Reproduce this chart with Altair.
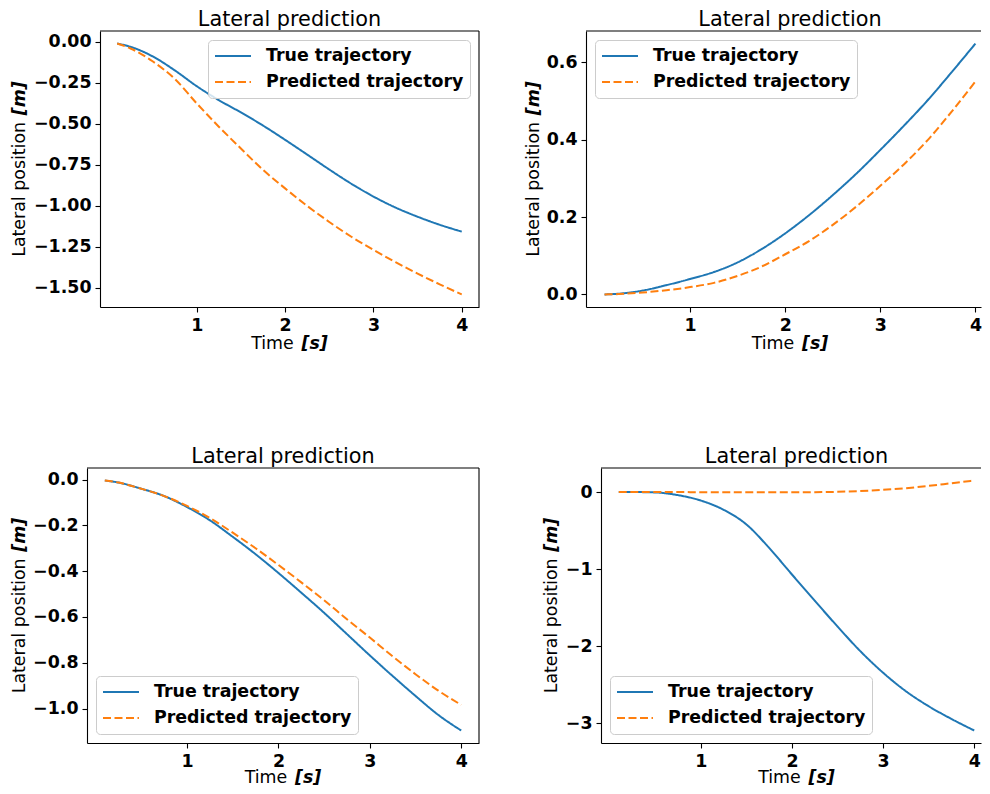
import altair as alt
import pandas as pd

# ---------------- data ----------------
time_s = [0.1, 0.25, 0.5, 0.75, 1.0, 1.25, 1.5, 1.75, 2.0, 2.25, 2.5, 2.75, 3.0, 3.25, 3.5, 3.75, 4.0]

p1_true = [-0.01, -0.03, -0.088, -0.173, -0.27, -0.355, -0.43, -0.51, -0.597, -0.687, -0.778, -0.865, -0.943, -1.01, -1.066, -1.115, -1.157]
p1_pred = [-0.01, -0.04, -0.118, -0.225, -0.375, -0.517, -0.65, -0.78, -0.893, -1.0, -1.098, -1.188, -1.268, -1.343, -1.413, -1.478, -1.54]

p2_true = [0.0, 0.002, 0.01, 0.024, 0.04, 0.058, 0.083, 0.117, 0.158, 0.205, 0.257, 0.313, 0.374, 0.437, 0.503, 0.575, 0.649]
p2_pred = [0.0, 0.001, 0.005, 0.011, 0.019, 0.03, 0.048, 0.072, 0.104, 0.138, 0.18, 0.228, 0.281, 0.337, 0.40, 0.473, 0.551]

p3_true = [-0.004, -0.013, -0.04, -0.072, -0.12, -0.178, -0.25, -0.326, -0.408, -0.494, -0.582, -0.675, -0.768, -0.858, -0.945, -1.028, -1.096]
p3_pred = [-0.004, -0.013, -0.04, -0.072, -0.115, -0.168, -0.232, -0.3, -0.373, -0.449, -0.527, -0.61, -0.69, -0.772, -0.85, -0.922, -0.984]

p4_true = [0.0, 0.0, -0.005, -0.04, -0.11, -0.23, -0.42, -0.725, -1.07, -1.41, -1.745, -2.065, -2.345, -2.585, -2.78, -2.945, -3.095]
p4_pred = [0.0, 0.0, 0.0, 0.0, -0.002, -0.003, -0.004, -0.004, -0.004, -0.002, 0.003, 0.013, 0.03, 0.05, 0.08, 0.115, 0.15]

series_names = ["True trajectory", "Predicted trajectory"]
series_colors = ["#1f77b4", "#ff7f0e"]

x_ticks = [1, 2, 3, 4]
p1_yticks = [0.0, -0.25, -0.5, -0.75, -1.0, -1.25, -1.5]
p2_yticks = [0.0, 0.2, 0.4, 0.6]
p3_yticks = [0.0, -0.2, -0.4, -0.6, -0.8, -1.0]
p4_yticks = [0, -1, -2, -3]

panel_title = "Lateral prediction"
x_label = ("Time", "[s]")
y_label = ("Lateral position", "[m]")

# ---------------- styling ----------------
FONT = "DejaVu Sans"
FS = 17.4
TITLE_FS = 20.8
LW = 1.1

one = pd.DataFrame({"k": [0]})


def text_piece(txt, x, y, align, angle=0, emph=False, size=FS):
    return alt.Chart(one).mark_text(
        text=txt, font=FONT, fontSize=size,
        fontWeight="bold" if emph else "normal",
        fontStyle="italic" if emph else "normal",
        align=align, baseline="alphabetic", angle=angle, color="black",
    ).encode(x=alt.value(x), y=alt.value(y))


def spacer(width):
    return alt.Chart(one).mark_point(opacity=0).encode(
        x=alt.value(0), y=alt.value(0)).properties(width=width, height=1)


def panel(true_v, pred_v, yticks, yfmt, w, full_w, h, legend_orient, ytitle_dx, xtitle_dy):
    n = len(time_s)
    df = pd.DataFrame({
        "t": time_s + time_s,
        "v": true_v + pred_v,
        "series": [series_names[0]] * n + [series_names[1]] * n,
    })
    # matplotlib-like 5% margins
    tmin, tmax = min(time_s), max(time_s)
    xm = 0.05 * (tmax - tmin)
    x0, x1 = tmin - xm, tmax + xm
    x1_vis = x0 + (x1 - x0) * w / full_w
    vals = true_v + pred_v
    lo, hi = min(vals), max(vals)
    ym = 0.05 * (hi - lo)

    leg = alt.Legend(
        title=None, orient=legend_orient, offset=9, padding=6,
        symbolType="stroke", symbolSize=1296, symbolStrokeWidth=2,
        clipHeight=20, rowPadding=6, labelOffset=14, labelLimit=400,
        labelFont=FONT, labelFontSize=FS, labelFontWeight="bold", labelColor="black",
        fillColor="rgba(255,255,255,0.8)", strokeColor="#cccccc", cornerRadius=4,
    )
    lines = alt.Chart(df).mark_line(strokeWidth=2, interpolate="monotone").encode(
        x=alt.X("t:Q", scale=alt.Scale(domain=[x0, x1_vis], nice=False, zero=False),
                axis=alt.Axis(values=x_ticks, format="d", title=None)),
        y=alt.Y("v:Q", scale=alt.Scale(domain=[lo - ym, hi + ym], nice=False, zero=False),
                axis=alt.Axis(values=yticks, title=None,
                              labelExpr="replace(format(datum.value, '%s'), '-', '\u2212')" % yfmt)),
        color=alt.Color("series:N", scale=alt.Scale(domain=series_names, range=series_colors), legend=leg),
        strokeDash=alt.StrokeDash("series:N", scale=alt.Scale(domain=series_names, range=[[1, 0], [8, 3.5]]), legend=leg),
    )
    cx = full_w / 2
    half_x = 38.3
    half_y = 87.8
    cy = h / 2
    layers = [
        lines,
        text_piece(panel_title, cx, -5.5, "center", size=TITLE_FS),
        text_piece(x_label[0], cx - half_x, h + xtitle_dy, "left"),
        text_piece(x_label[1], cx + half_x, h + xtitle_dy, "right", emph=True),
        text_piece(y_label[0], ytitle_dx, cy + half_y, "left", angle=270),
        text_piece(y_label[1], ytitle_dx, cy - half_y, "right", angle=270, emph=True),
        alt.Chart(one).mark_rule(color="black", strokeWidth=LW).encode(
            x=alt.value(0), x2=alt.value(w), y=alt.value(0)),
    ]
    if w == full_w:
        layers.append(alt.Chart(one).mark_rule(color="black", strokeWidth=LW).encode(
            x=alt.value(w), y=alt.value(0), y2=alt.value(h)))
    return alt.layer(*layers).properties(width=w, height=h)


p1 = panel(p1_true, p1_pred, p1_yticks, ".2f", 379, 379, 276, "top-right", -75, 42)
p2 = panel(p2_true, p2_pred, p2_yticks, ".1f", 395, 408, 276, "top-left", -47, 42)
p3 = panel(p3_true, p3_pred, p3_yticks, ".1f", 392, 392, 275, "bottom-left", -62, 40)
p4 = panel(p4_true, p4_pred, p4_yticks, "d", 380, 391, 275, "bottom-left", -44, 40)

row1 = alt.hconcat(spacer(13), p1, spacer(107), p2, spacing=0, bounds="flush").resolve_scale(
    color="independent", strokeDash="independent")
row2 = alt.hconcat(p3, spacer(122), p4, spacing=0, bounds="flush").resolve_scale(
    color="independent", strokeDash="independent")

chart = (
    alt.vconcat(row1, row2, spacing=92)
    .resolve_scale(color="independent", strokeDash="independent")
    .properties(padding={"left": 3, "top": 0, "right": 0, "bottom": 0}, background="white")
    .configure_view(strokeOpacity=0)
    .configure_axis(
        grid=False, domainColor="black", domainWidth=LW, tickColor="black", tickWidth=LW,
        tickSize=5, labelPadding=4, labelFont=FONT, labelFontSize=FS, labelFontWeight="bold",
        labelColor="black", labelFlush=False, labelOverlap=False,
    )
)

chart.save("out.html", embed_options={"renderer": "svg", "actions": False})
